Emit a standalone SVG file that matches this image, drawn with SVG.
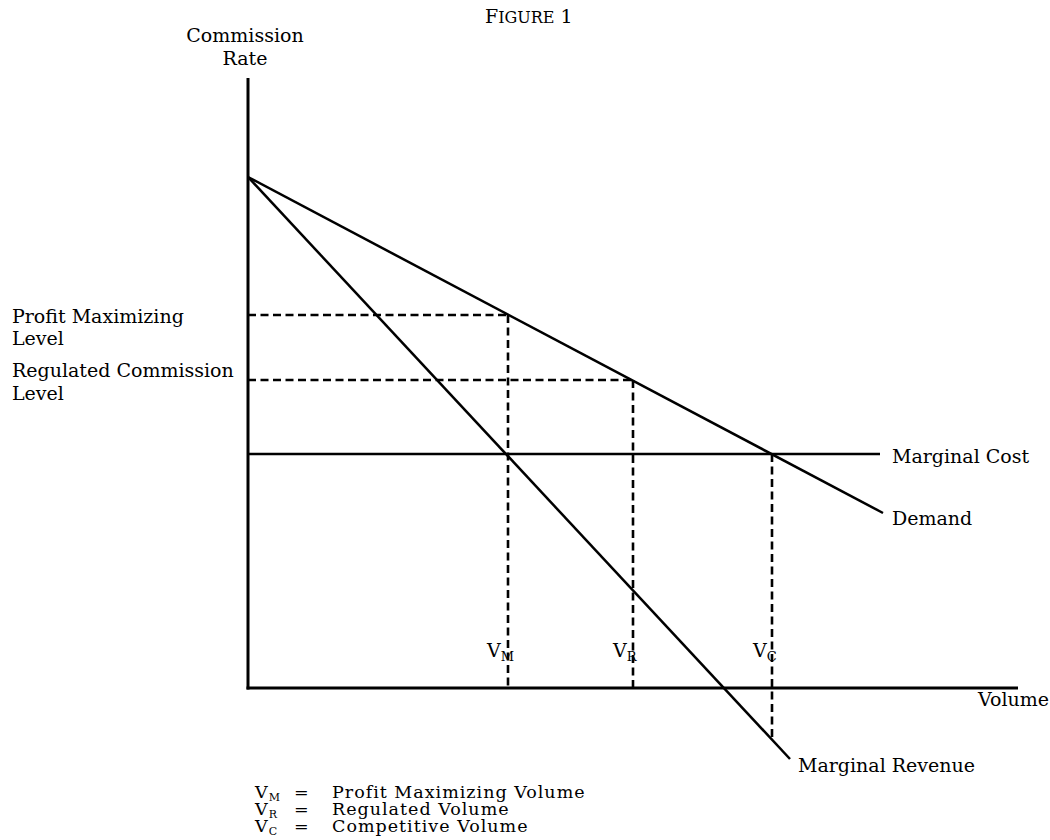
<svg xmlns="http://www.w3.org/2000/svg" width="1050" height="840" viewBox="0 0 1050 840">
<style>
text{font-family:"DejaVu Serif","Liberation Serif",serif;fill:#000;font-size:19px}
.ax{stroke:#000;stroke-width:3;fill:none}
.cv{stroke:#000;stroke-width:2.5;fill:none}
.ds{stroke:#000;stroke-width:2.6;fill:none;stroke-dasharray:8 4.5}
.sub{font-size:13px}
.lg{font-size:17.5px;letter-spacing:1px}
.lsub{font-size:11px;letter-spacing:0}
</style>
<rect width="1050" height="840" fill="#fff"/>
<g id="title"><text x="485" y="23" font-size="20">F<tspan font-size="16">IGURE</tspan> 1</text></g>
<g id="axes">
<line class="ax" x1="248" y1="78" x2="248" y2="689.5"/>
<line class="ax" x1="246.5" y1="688" x2="1018" y2="688"/>
</g>
<g id="connectors">
<line id="demand-line" class="cv" x1="248" y1="177" x2="883" y2="513"/>
<line id="mr-line" class="cv" x1="248" y1="177" x2="790" y2="759"/>
<line id="mc-line" class="cv" x1="248" y1="454" x2="880" y2="454"/>
<line class="ds" x1="248" y1="315" x2="508" y2="315"/>
<line class="ds" x1="248" y1="380" x2="633" y2="380"/>
<line class="ds" x1="508" y1="315" x2="508" y2="688"/>
<line class="ds" x1="633" y1="380" x2="633" y2="688"/>
<line class="ds" x1="772" y1="454" x2="772" y2="738"/>
</g>
<g id="y-axis-label"><text x="245" y="42" text-anchor="middle">Commission</text><text x="245" y="65" text-anchor="middle">Rate</text></g>
<g id="x-axis-label"><text x="978" y="706" font-size="18.5">Volume</text></g>
<g id="profit-level"><text x="12" y="323" font-size="19.5">Profit Maximizing</text><text x="12" y="345">Level</text></g>
<g id="regulated-level"><text x="12" y="377">Regulated Commission</text><text x="12" y="400">Level</text></g>
<g id="marginal-cost"><text x="892" y="463" font-size="19.5">Marginal Cost</text></g>
<g id="demand"><text x="892" y="525">Demand</text></g>
<g id="marginal-revenue"><text x="798" y="772">Marginal Revenue</text></g>
<g id="vm"><text x="487" y="657">V<tspan class="sub" dy="4">M</tspan></text></g>
<g id="vr"><text x="613" y="657">V<tspan class="sub" dy="4">R</tspan></text></g>
<g id="vc"><text x="753" y="657">V<tspan class="sub" dy="4">C</tspan></text></g>
<g id="legend">
<text class="lg" x="255" y="798">V<tspan class="lsub" dy="2.5">M</tspan><tspan x="294" dy="-2.5">=</tspan><tspan x="332">Profit Maximizing Volume</tspan></text>
<text class="lg" x="255" y="815">V<tspan class="lsub" dy="2.5">R</tspan><tspan x="294" dy="-2.5">=</tspan><tspan x="332">Regulated Volume</tspan></text>
<text class="lg" x="255" y="832">V<tspan class="lsub" dy="2.5">C</tspan><tspan x="294" dy="-2.5">=</tspan><tspan x="332">Competitive Volume</tspan></text>
</g>
</svg>
